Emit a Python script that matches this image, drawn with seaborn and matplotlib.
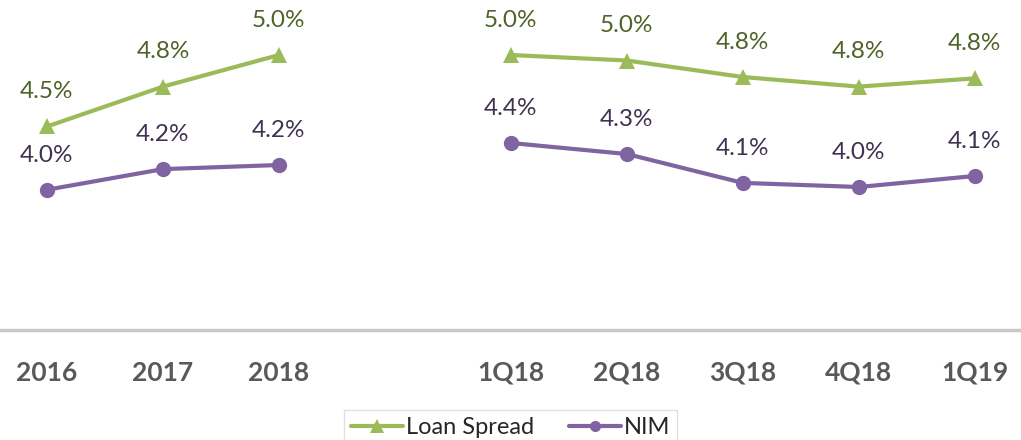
import matplotlib.pyplot as plt
import numpy as np
import pandas as pd
import seaborn as sns

# x slots: annual periods, an empty slot, then quarters
categories = ['2016', '2017', '2018', '', '1Q18', '2Q18', '3Q18', '4Q18', '1Q19']
annual = ['2016', '2017', '2018']
quarters = ['1Q18', '2Q18', '3Q18', '4Q18', '1Q19']

loan_annual = [4.48, 4.77, 5.00]
loan_quarters = [5.00, 4.96, 4.84, 4.77, 4.83]
nim_annual = [4.02, 4.17, 4.20]
nim_quarters = [4.36, 4.28, 4.07, 4.04, 4.12]

rows = []
for period, labels, loan, nim in [('annual', annual, loan_annual, nim_annual),
                                  ('quarter', quarters, loan_quarters, nim_quarters)]:
    for lab, l, n in zip(labels, loan, nim):
        rows.append({'x': categories.index(lab), 'value': l, 'series': 'Loan Spread', 'period': period})
        rows.append({'x': categories.index(lab), 'value': n, 'series': 'NIM', 'period': period})
df = pd.DataFrame(rows)

green = '#9bbb59'
purple = '#8064a2'
sns.set_style('white')
plt.rcParams['font.family'] = ['Lato', 'DejaVu Sans']

fig = plt.figure(figsize=(10.21, 4.40), dpi=100)
ax = fig.add_axes([0, 0.25, 1, 0.75])

sns.lineplot(data=df, x='x', y='value', hue='series', style='series', units='period',
             estimator=None, palette={'Loan Spread': green, 'NIM': purple},
             markers={'Loan Spread': '^', 'NIM': 'o'}, dashes=False,
             linewidth=3, markersize=11, markeredgewidth=0, ax=ax, legend=False)

label_colors = {'Loan Spread': '#4f6228', 'NIM': '#3f3151'}
for _, r in df.iterrows():
    ax.annotate(f"{r['value']:.1f}%", (r['x'], r['value']), xytext=(0, 25),
                textcoords='offset points', ha='center', va='center',
                fontsize=17.5, color=label_colors[r['series']])

ax.set_xlim(-0.405, 8.40)
ax.set_ylim(3.0, 5.4)
ax.set_yticks([])
ax.set_xticks(range(len(categories)))
ax.set_xticklabels(categories, fontsize=19, fontweight='bold', color='#595959')
ax.tick_params(axis='x', length=0, pad=22)
ax.set_xlabel('')
ax.set_ylabel('')
for side in ['top', 'left', 'right']:
    ax.spines[side].set_visible(False)
ax.spines['bottom'].set_color('#c8c8c8')
ax.spines['bottom'].set_linewidth(2.5)

handles = [plt.Line2D([], [], color=green, marker='^', lw=3, markersize=10, markeredgewidth=0),
           plt.Line2D([], [], color=purple, marker='o', lw=3, markersize=8, markeredgewidth=0)]
leg = fig.legend(handles, ['Loan Spread', 'NIM'], loc='upper center',
                 bbox_to_anchor=(0.5, 0.095), ncol=2, fontsize=17, frameon=True,
                 fancybox=False, handlelength=2.2, handletextpad=0.1, columnspacing=1.5,
                 borderpad=0.3)
leg.get_frame().set_edgecolor('#d9d9d9')
leg.get_frame().set_linewidth(1)

fig.savefig('out.png', dpi=100)
